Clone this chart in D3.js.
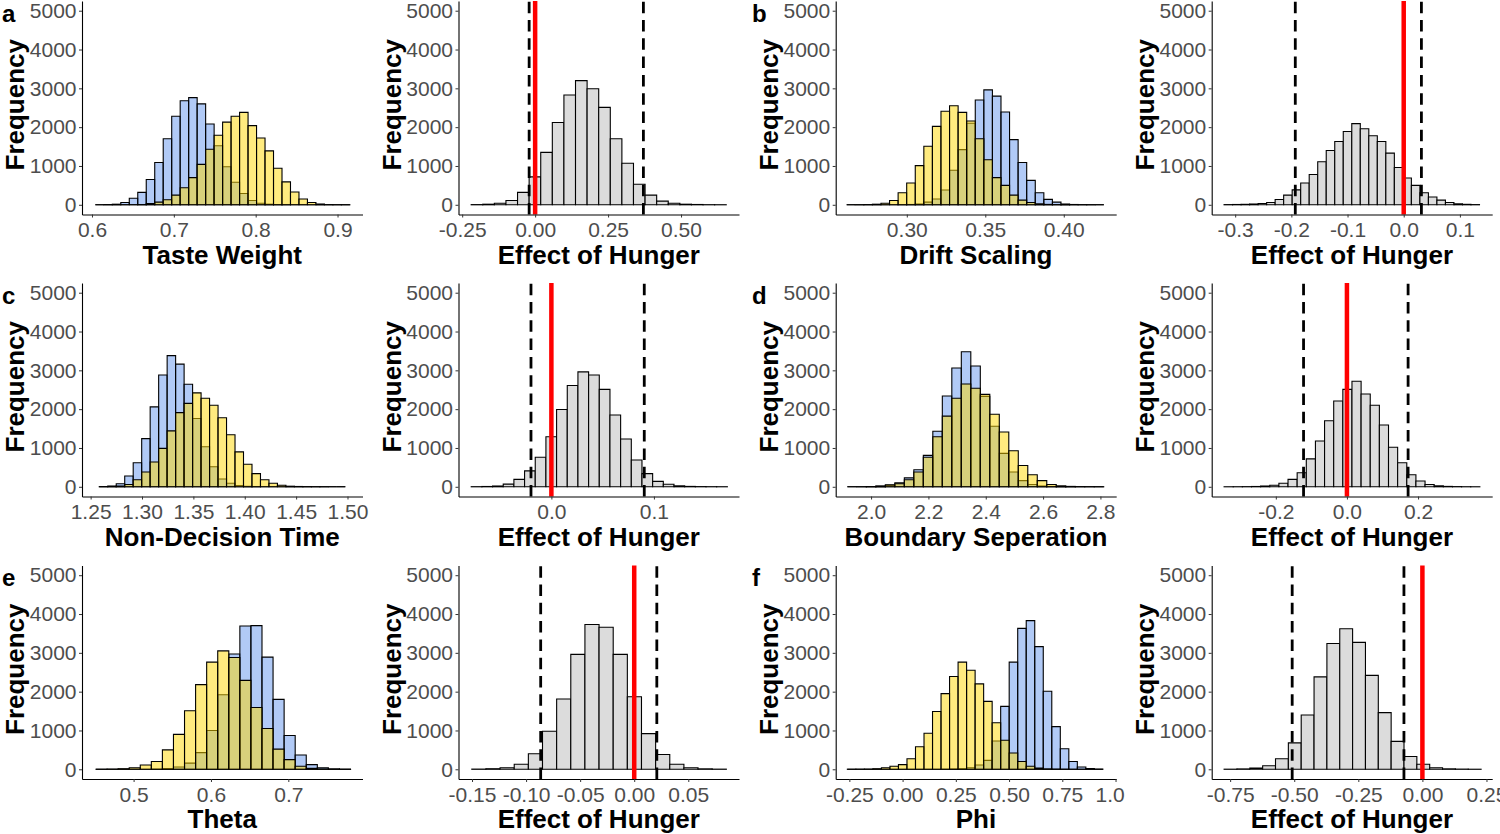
<!DOCTYPE html>
<html>
<head>
<meta charset="utf-8">
<script src="https://cdn.jsdelivr.net/npm/d3@7"></script>
<style>
  body { margin: 0; background: #fff; }
  text { font-family: "Liberation Sans", Arial, Helvetica, sans-serif; }
</style>
</head>
<body>
<div id="chart"></div>
<script>
// ---- data: histogram counts (bin start, bin width, counts) ----

// a. taste weight
var tasteStart = 0.6041, tasteStep = 0.010366;
var tasteGroup1 = [0,5,15,60,170,320,650,1090,1700,2280,2680,2760,2600,2080,1520,980,580,290,110,40,15,5,2,0,0,0,0,0,0,0];
var tasteGroup2 = [0,0,0,0,0,5,30,70,130,250,440,700,1040,1430,1790,2130,2280,2380,2040,1720,1390,940,590,330,150,60,20,5,2,1];
var tasteTicks = [0.6, 0.7, 0.8, 0.9];
var tasteDomain = [0.5878, 0.9305];

var tasteEffStart = -0.2192, tasteEffStep = 0.03973;
var tasteEffect = [5,15,40,110,320,720,1350,2120,2830,3200,2990,2510,1700,1070,530,250,95,40,15,8,3,2];
var tasteEffCI = [-0.0205, 0.371];
var tasteEffTicks = [-0.25, 0, 0.25, 0.5];
var tasteEffDomain = [-0.2626, 0.6986];

// b. drift scaling
var driftStart = 0.2617, driftStep = 0.005461;
var driftGroup1 = [0,0,0,0,0,0,3,8,20,70,150,380,890,1420,2100,2700,2960,2800,2390,1680,1090,630,310,140,70,20,8,3,1,0];
var driftGroup2 = [0,1,5,15,40,110,310,560,1010,1510,2020,2410,2550,2380,2160,1700,1160,700,500,250,120,60,25,10,4,1,0,0,0,0];
var driftTicks = [0.30, 0.35, 0.40];
var driftDomain = [0.2547, 0.4334];

var driftEffStart = -0.3198, driftEffStep = 0.015156;
var driftEffect = [5,8,12,20,35,60,135,250,385,560,780,1110,1400,1630,1890,2090,1960,1780,1630,1330,960,690,500,310,200,120,60,25,12,5];
var driftEffCI = [-0.193, 0.0315];
var driftEffTicks = [-0.3, -0.2, -0.1, 0, 0.1];
var driftEffDomain = [-0.3418, 0.1575];

// c. non-decision time
var ndtStart = 1.2584, ndtStep = 0.008258;
var ndtGroup1 = [5,20,80,280,620,1240,2060,2880,3380,3160,2640,1760,1030,515,200,90,35,12,5,0,0,0,0,0,0,0,0,0,0];
var ndtGroup2 = [0,0,20,60,180,380,640,990,1440,1910,2150,2420,2280,2100,1780,1340,900,580,340,180,90,40,15,8,4,2,1,0,0];
var ndtTicks = [1.25, 1.30, 1.35, 1.40, 1.45, 1.50];
var ndtDomain = [1.2416, 1.5146];

var ndtEffStart = -0.0782, ndtEffStep = 0.01041;
var ndtEffect = [3,8,20,70,190,410,760,1290,1990,2610,2960,2880,2510,1850,1230,690,340,140,65,25,10,5,3,2];
var ndtEffCI = [-0.0199, 0.0906];
var ndtEffTicks = [0, 0.1];
var ndtEffDomain = [-0.0906, 0.183];

// d. boundary separation
var bsStart = 1.9173, bsStep = 0.03312;
var bsGroup1 = [0,1,5,15,40,100,230,440,810,1430,2340,3060,3480,3110,2330,1560,860,380,160,60,20,8,3,1,0,0,0];
var bsGroup2 = [0,0,5,20,50,80,180,380,760,1290,1820,2280,2650,2540,2380,1870,1410,930,550,310,160,60,25,10,4,2,1];
var bsTicks = [2.0, 2.2, 2.4, 2.6, 2.8];
var bsDomain = [1.8766, 2.855];

var bsEffStart = -0.3455, bsEffStep = 0.02569;
var bsEffect = [1,2,4,8,20,40,90,190,360,720,1180,1700,2210,2510,2720,2390,2100,1590,1020,620,310,150,60,25,10,5,2,1];
var bsEffCI = [-0.122, 0.172];
var bsEffTicks = [-0.2, 0, 0.2];
var bsEffDomain = [-0.3803, 0.4085];

// e. theta
var thetaStart = 0.4514, thetaStep = 0.014305;
var thetaGroup1 = [0,0,0,0,0,5,20,60,160,430,1000,1920,2970,3690,3700,2890,1800,870,370,120,40,10,3];
var thetaGroup2 = [2,5,15,40,110,200,500,900,1510,2180,2760,3050,2880,2290,1590,1050,520,250,80,25,8,3,1];
var thetaTicks = [0.5, 0.6, 0.7];
var thetaDomain = [0.4333, 0.7959];

var thetaEffStart = -0.1502, thetaEffStep = 0.013077;
var thetaEffect = [5,15,40,130,400,980,1810,2960,3730,3660,2960,1870,920,380,130,40,12,4];
var thetaEffCI = [-0.0865, 0.0209];
var thetaEffTicks = [-0.15, -0.10, -0.05, 0, 0.05];
var thetaEffDomain = [-0.1625, 0.0969];

// f. phi
var phiStart = -0.2594, phiStep = 0.04;
var phiGroup1 = [0,0,0,0,0,0,0,0,0,0,0,3,8,15,40,110,230,730,1620,2760,3630,3830,3160,2010,1100,530,200,60,20,5];
var phiGroup2 = [2,3,5,15,40,80,120,270,580,930,1490,1950,2390,2760,2550,2200,1750,1200,750,420,200,80,30,10,4,2,0,0,0,0];
var phiTicks = [-0.25, 0, 0.25, 0.5, 0.75, 1.0];
var phiDomain = [-0.3141, 1.0031];

var phiEffStart = -0.7736, phiEffStep = 0.05013;
var phiEffect = [3,10,30,90,270,680,1400,2380,3240,3620,3270,2420,1460,720,330,130,40,12,5,2];
var phiEffCI = [-0.508, -0.072];
var phiEffTicks = [-0.75, -0.5, -0.25, 0, 0.25];
var phiEffDomain = [-0.822, 0.2723];

var freqTicks = [0, 1000, 2000, 3000, 4000, 5000];

// ---- layout ----
var W = 1500, H = 834;
var colX = [82, 458.5, 835.7, 1211.7], plotW = 280.5, cellW = 375;
var rowY = [1, 283, 565.5], plotH = 213.5;
var blue = "#6495ED", yellow = "#FFD700", grey = "#dcdcdc";

var loc = d3.formatLocale({decimal: ".", thousands: ",", grouping: [3], currency: ["", ""], minus: "-"});

function pair(g1, g2) { return [{v: g1, fill: blue, op: 0.5}, {v: g2, fill: yellow, op: 0.5}]; }
function single(v) { return [{v: v, fill: grey, op: 1}]; }

var panels = [
  {row:0, col:0, letter:"a", title:"Taste Weight", start:tasteStart, step:tasteStep, series:pair(tasteGroup1, tasteGroup2), ticks:tasteTicks, domain:tasteDomain, fmt:".1f"},
  {row:0, col:1, title:"Effect of Hunger", start:tasteEffStart, step:tasteEffStep, series:single(tasteEffect), ci:tasteEffCI, ticks:tasteEffTicks, domain:tasteEffDomain, fmt:".2f"},
  {row:0, col:2, letter:"b", title:"Drift Scaling", start:driftStart, step:driftStep, series:pair(driftGroup1, driftGroup2), ticks:driftTicks, domain:driftDomain, fmt:".2f"},
  {row:0, col:3, title:"Effect of Hunger", start:driftEffStart, step:driftEffStep, series:single(driftEffect), ci:driftEffCI, ticks:driftEffTicks, domain:driftEffDomain, fmt:".1f"},
  {row:1, col:0, letter:"c", title:"Non-Decision Time", start:ndtStart, step:ndtStep, series:pair(ndtGroup1, ndtGroup2), ticks:ndtTicks, domain:ndtDomain, fmt:".2f"},
  {row:1, col:1, title:"Effect of Hunger", start:ndtEffStart, step:ndtEffStep, series:single(ndtEffect), ci:ndtEffCI, ticks:ndtEffTicks, domain:ndtEffDomain, fmt:".1f"},
  {row:1, col:2, letter:"d", title:"Boundary Seperation", start:bsStart, step:bsStep, series:pair(bsGroup1, bsGroup2), ticks:bsTicks, domain:bsDomain, fmt:".1f"},
  {row:1, col:3, title:"Effect of Hunger", start:bsEffStart, step:bsEffStep, series:single(bsEffect), ci:bsEffCI, ticks:bsEffTicks, domain:bsEffDomain, fmt:".1f"},
  {row:2, col:0, letter:"e", title:"Theta", start:thetaStart, step:thetaStep, series:pair(thetaGroup1, thetaGroup2), ticks:thetaTicks, domain:thetaDomain, fmt:".1f"},
  {row:2, col:1, title:"Effect of Hunger", start:thetaEffStart, step:thetaEffStep, series:single(thetaEffect), ci:thetaEffCI, ticks:thetaEffTicks, domain:thetaEffDomain, fmt:".2f"},
  {row:2, col:2, letter:"f", title:"Phi", start:phiStart, step:phiStep, series:pair(phiGroup1, phiGroup2), ticks:phiTicks, domain:phiDomain, fmt:".2f"},
  {row:2, col:3, title:"Effect of Hunger", start:phiEffStart, step:phiEffStep, series:single(phiEffect), ci:phiEffCI, ticks:phiEffTicks, domain:phiEffDomain, fmt:".2f"}
];

var svg = d3.select("#chart").append("svg").attr("width", W).attr("height", H);
var defs = svg.append("defs");

panels.forEach(function(p, i) {
  var x0 = colX[p.col], y0 = rowY[p.row];

  defs.append("clipPath").attr("id", "cell" + i)
    .append("rect").attr("x", p.col * cellW).attr("y", 0).attr("width", cellW).attr("height", H);

  var g = svg.append("g").attr("clip-path", "url(#cell" + i + ")");

  var x = d3.scaleLinear().domain(p.domain).range([x0, x0 + plotW]);
  var y = d3.scaleLinear().domain([-250, 5250]).range([y0 + plotH, y0]);

  // bars (paths so that empty bins still show their outline on the baseline)
  p.series.forEach(function(s) {
    g.append("g").selectAll("path")
      .data(s.v)
      .enter()
      .append("path")
      .attr("d", function(d, k) {
        var a = x(p.start + k * p.step), b = x(p.start + (k + 1) * p.step);
        return "M" + a + "," + y(0) + "V" + y(d) + "H" + b + "V" + y(0) + "Z";
      })
      .attr("fill", s.fill)
      .attr("fill-opacity", s.op)
      .attr("stroke", "#000")
      .attr("stroke-width", 1.1);
  });

  // credible interval + zero line
  if (p.ci) {
    g.selectAll(".ci").data(p.ci).enter().append("line")
      .attr("x1", d => x(d)).attr("x2", d => x(d))
      .attr("y1", y0 + plotH).attr("y2", y0)
      .attr("stroke", "#000").attr("stroke-width", 2.8)
      .attr("stroke-dasharray", "11.5,6.8");
    g.append("line")
      .attr("x1", x(0)).attr("x2", x(0))
      .attr("y1", y0 + plotH).attr("y2", y0)
      .attr("stroke", "#ff0000").attr("stroke-width", 4.5);
  }

  // axes
  var ya = g.append("g").attr("transform", "translate(" + x0 + ",0)")
    .call(d3.axisLeft(y).tickValues(freqTicks).tickFormat(d3.format("d")).tickSize(3).tickSizeOuter(0).tickPadding(2.5));
  var xa = g.append("g").attr("transform", "translate(0," + (y0 + plotH) + ")")
    .call(d3.axisBottom(x).tickValues(p.ticks).tickFormat(loc.format(p.fmt)).tickSize(3).tickSizeOuter(0).tickPadding(5));

  [ya, xa].forEach(function(a) {
    a.attr("font-family", null).attr("font-size", 21);
    a.select(".domain").attr("stroke", "#000").attr("stroke-width", 1.1);
    a.selectAll(".tick line").attr("stroke", "#333").attr("stroke-width", 1);
    a.selectAll(".tick text").attr("fill", "#4d4d4d");
  });

  // titles
  g.append("text")
    .attr("x", x0 + plotW / 2).attr("y", y0 + plotH + 49)
    .attr("text-anchor", "middle").attr("font-size", 26).attr("font-weight", "bold")
    .text(p.title);

  g.append("text")
    .attr("transform", "translate(" + (x0 - 58) + "," + (y0 + plotH / 2 - 3) + ") rotate(-90)")
    .attr("text-anchor", "middle").attr("font-size", 26).attr("font-weight", "bold")
    .text("Frequency");

  if (p.letter) {
    g.append("text")
      .attr("x", p.col * cellW + 2).attr("y", y0 + 20.5)
      .attr("font-size", 24).attr("font-weight", "bold")
      .text(p.letter);
  }
});
</script>
</body>
</html>
